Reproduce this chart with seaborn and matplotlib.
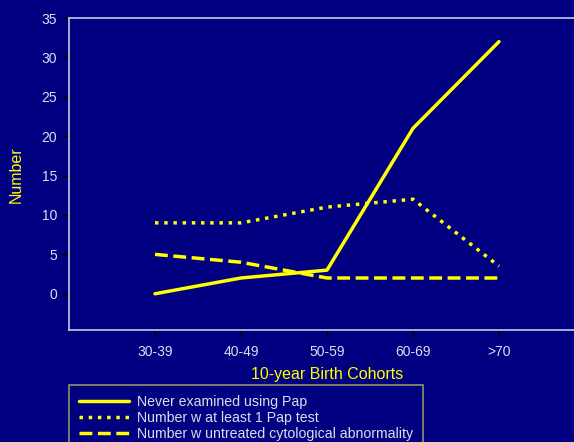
import matplotlib
matplotlib.use("Agg")
import matplotlib.pyplot as plt
import seaborn as sns
import pandas as pd

cohorts = ["30-39", "40-49", "50-59", "60-69", ">70"]
never_examined = [0, 2, 3, 21, 32]
at_least_one = [9, 9, 11, 12, 3.5]
untreated = [5, 4, 2, 2, 2]

series_names = [
    "Never examined using Pap",
    "Number w at least 1 Pap test",
    "Number w untreated cytological abnormality",
]

sns.set_theme(style="dark")
plt.rcParams["font.family"] = ["Liberation Sans", "DejaVu Sans"]

navy = "#000080"
yellow = "#FFFF00"
pale = "#DDDDF0"

rows = []
for name, vals in zip(series_names, [never_examined, at_least_one, untreated]):
    for i, (c, v) in enumerate(zip(cohorts, vals)):
        rows.append({"idx": i, "cohort": c, "value": v, "series": name})
df = pd.DataFrame(rows)

fig = plt.figure(figsize=(5.74, 4.42), dpi=100, facecolor=navy)
ax = fig.add_axes([69 / 574, 1 - 330 / 442, (585 - 69) / 574, (330 - 18) / 442])
ax.set_facecolor(navy)

styles = {series_names[0]: "-", series_names[1]: ":", series_names[2]: "--"}
for name in series_names:
    sub = df[df["series"] == name]
    sns.lineplot(data=sub, x="idx", y="value", ax=ax, color=yellow,
                 linewidth=2.5, linestyle=styles[name], label=name)

ax.set_xlim(-1, 5)
ax.set_ylim(-4.6, 35)
ax.set_xticks(range(len(cohorts)))
ax.set_xticklabels(cohorts)
ax.set_yticks(range(0, 36, 5))
ax.grid(False)

for side in ["left", "top", "bottom", "right"]:
    ax.spines[side].set_visible(True)
    ax.spines[side].set_color("#C8C8E0")
    ax.spines[side].set_linewidth(1.2)

ax.tick_params(axis="both", colors="black", labelcolor=pale, labelsize=10,
               direction="out", length=5, width=1, bottom=True, left=True)
ax.tick_params(axis="x", pad=6)

ax.set_xlabel("10-year Birth Cohorts", color=yellow, fontsize=11.5)
ax.set_ylabel("Number", color=yellow, fontsize=11.5)
ax.xaxis.set_label_coords((327 - 69) / (585 - 69), -(367 - 330) / (330 - 18))
ax.yaxis.set_label_coords(-(69 - 24) / (585 - 69), (330 - 175) / (330 - 18))

leg = ax.legend(loc="upper left", bbox_to_anchor=(0.0, -(385 - 330) / (330 - 18)),
                frameon=True, fancybox=False, facecolor=navy, edgecolor="#B8B860",
                fontsize=10.2, handlelength=3.5, handletextpad=0.6,
                borderpad=0.7, labelspacing=0.14, borderaxespad=0)
leg.get_frame().set_linewidth(1.2)
for t in leg.get_texts():
    t.set_color(pale)

fig.savefig("out.png", dpi=100, facecolor=navy)
